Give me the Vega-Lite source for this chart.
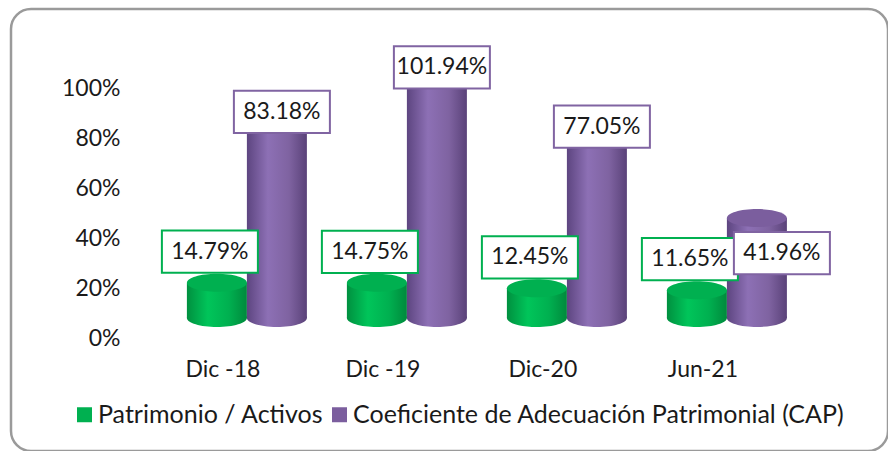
{
  "$schema": "https://vega.github.io/schema/vega-lite/v6.json",
  "width": 877,
  "height": 442,
  "autosize": {"type": "none"},
  "padding": {"left": 11, "top": 9, "right": 0, "bottom": 0},
  "background": "white",
  "config": {
    "view": {"stroke": "#9a9a9a", "strokeWidth": 2.5, "cornerRadius": 20},
    "font": "Lato"
  },
  "data": {
    "values": [
      {"periodo": "Dic -18", "serie": "Patrimonio / Activos", "valor": 0.1479},
      {"periodo": "Dic -19", "serie": "Patrimonio / Activos", "valor": 0.1475},
      {"periodo": "Dic-20", "serie": "Patrimonio / Activos", "valor": 0.1245},
      {"periodo": "Jun-21", "serie": "Patrimonio / Activos", "valor": 0.1165},
      {"periodo": "Dic -18", "serie": "Coeficiente de Adecuación Patrimonial (CAP)", "valor": 0.8318},
      {"periodo": "Dic -19", "serie": "Coeficiente de Adecuación Patrimonial (CAP)", "valor": 1.0194},
      {"periodo": "Dic-20", "serie": "Coeficiente de Adecuación Patrimonial (CAP)", "valor": 0.7705},
      {"periodo": "Jun-21", "serie": "Coeficiente de Adecuación Patrimonial (CAP)", "valor": 0.4196}
    ]
  },
  "layer": [
    {
      "mark": {"type": "point", "opacity": 0},
      "encoding": {
        "y": {
          "field": "valor",
          "type": "quantitative",
          "scale": {"domain": [-0.452, 1.316], "nice": false, "zero": false},
          "axis": {
            "orient": "left",
            "offset": -134,
            "values": [0, 0.2, 0.4, 0.6, 0.8, 1],
            "format": ".0%",
            "domain": false,
            "ticks": false,
            "tickSize": 0,
            "grid": false,
            "labelPadding": 25,
            "labelFontSize": 23,
            "labelColor": "#1a1a1a",
            "title": null
          }
        }
      }
    },
    {
      "encoding": {
        "x": {
          "field": "periodo",
          "type": "nominal",
          "sort": ["Dic -18", "Dic -19", "Dic-20", "Jun-21"],
          "scale": {"paddingInner": 0.25, "paddingOuter": 0.8656, "align": 0.635},
          "axis": {
            "orient": "bottom",
            "offset": -113,
            "domain": false,
            "ticks": false,
            "tickSize": 0,
            "grid": false,
            "labelPadding": 20,
            "labelOffset": -24,
            "labelAngle": 0,
            "labelFontSize": 23,
            "labelColor": "#1a1a1a",
            "title": null
          }
        },
        "y": {
          "field": "valor",
          "type": "quantitative",
          "stack": null,
          "scale": {"domain": [-0.559, 1.298], "nice": false, "zero": false},
          "axis": null
        }
      },
      "layer": [
        {
          "transform": [{"filter": "datum.serie === 'Patrimonio / Activos'"}],
          "mark": {"type": "point", "shape": "M -1 0 A 1 0.3 0 1 0 1 0 A 1 0.3 0 1 0 -1 0 Z", "size": 3600, "filled": true, "opacity": 1, "strokeWidth": 0, "xOffset": -30,
            "fill": {"gradient": "linear", "x1": 0, "y1": 0, "x2": 1, "y2": 0, "stops": [{"offset": 0, "color": "#00903F"}, {"offset": 0.35, "color": "#00C55A"}, {"offset": 0.7, "color": "#00B050"}, {"offset": 1, "color": "#008A3C"}]}},
          "encoding": {"y": {"datum": 0}}
        },
        {
          "transform": [{"filter": "datum.serie !== 'Patrimonio / Activos'"}],
          "mark": {"type": "point", "shape": "M -1 0 A 1 0.3 0 1 0 1 0 A 1 0.3 0 1 0 -1 0 Z", "size": 3600, "filled": true, "opacity": 1, "strokeWidth": 0, "xOffset": 30,
            "fill": {"gradient": "linear", "x1": 0, "y1": 0, "x2": 1, "y2": 0, "stops": [{"offset": 0, "color": "#5D4580"}, {"offset": 0.35, "color": "#8D70B5"}, {"offset": 0.7, "color": "#7F63A1"}, {"offset": 1, "color": "#5A4279"}]}},
          "encoding": {"y": {"datum": 0}}
        },
        {
          "transform": [{"filter": "datum.serie === 'Patrimonio / Activos'"}],
          "mark": {"type": "bar", "width": 60, "xOffset": -30,
            "fill": {"gradient": "linear", "x1": 0, "y1": 0, "x2": 1, "y2": 0, "stops": [{"offset": 0, "color": "#00903F"}, {"offset": 0.35, "color": "#00C55A"}, {"offset": 0.7, "color": "#00B050"}, {"offset": 1, "color": "#008A3C"}]}}
        },
        {
          "transform": [{"filter": "datum.serie !== 'Patrimonio / Activos'"}],
          "mark": {"type": "bar", "width": 60, "xOffset": 30,
            "fill": {"gradient": "linear", "x1": 0, "y1": 0, "x2": 1, "y2": 0, "stops": [{"offset": 0, "color": "#5D4580"}, {"offset": 0.35, "color": "#8D70B5"}, {"offset": 0.7, "color": "#7F63A1"}, {"offset": 1, "color": "#5A4279"}]}}
        },
        {
          "transform": [{"filter": "datum.serie === 'Patrimonio / Activos'"}],
          "mark": {"type": "point", "shape": "M -1 0 A 1 0.3 0 1 0 1 0 A 1 0.3 0 1 0 -1 0 Z", "size": 3600, "filled": true, "opacity": 1, "strokeWidth": 0, "xOffset": -30},
          "encoding": {
            "color": {
              "field": "serie",
              "type": "nominal",
              "scale": {"domain": ["Patrimonio / Activos", "Coeficiente de Adecuación Patrimonial (CAP)"], "range": ["#00B050", "#7B5E9E"]},
              "legend": {"orient": "none", "legendX": 61, "legendY": 393, "direction": "horizontal", "title": null, "symbolType": "square", "symbolSize": 225, "symbolStrokeWidth": 0, "symbolOpacity": 1, "labelFontSize": 25, "labelLimit": 800, "columnPadding": 3, "labelOffset": 1, "labelColor": "#1a1a1a"}
            }
          }
        },
        {
          "transform": [{"filter": "datum.serie !== 'Patrimonio / Activos'"}],
          "mark": {"type": "point", "shape": "M -1 0 A 1 0.3 0 1 0 1 0 A 1 0.3 0 1 0 -1 0 Z", "size": 3600, "filled": true, "opacity": 1, "strokeWidth": 0, "xOffset": 30},
          "encoding": {
            "color": {"field": "serie", "type": "nominal"}
          }
        },
        {
          "transform": [{"filter": "datum.serie === 'Patrimonio / Activos'"}],
          "mark": {"type": "point", "shape": "M -1 -0.44 L 1 -0.44 L 1 0.44 L -1 0.44 Z", "size": 9216, "filled": true, "fill": "white", "stroke": "#00B050", "strokeWidth": 2, "opacity": 1, "xOffset": -37, "yOffset": -31}
        },
        {
          "transform": [{"filter": "datum.serie === 'Patrimonio / Activos'"}],
          "mark": {"type": "text", "fontSize": 23, "color": "#1a1a1a", "baseline": "middle", "align": "center", "xOffset": -37, "yOffset": -31},
          "encoding": {"text": {"field": "valor", "type": "quantitative", "format": ".2%"}}
        },
        {
          "transform": [{"filter": "datum.serie !== 'Patrimonio / Activos' && datum.periodo !== 'Jun-21'"}],
          "mark": {"type": "point", "shape": "M -1 -0.44 L 1 -0.44 L 1 0.44 L -1 0.44 Z", "size": 9216, "filled": true, "fill": "white", "stroke": "#8064A2", "strokeWidth": 2, "opacity": 1, "xOffset": 35, "yOffset": -8}
        },
        {
          "transform": [{"filter": "datum.serie !== 'Patrimonio / Activos' && datum.periodo !== 'Jun-21'"}],
          "mark": {"type": "text", "fontSize": 23, "color": "#1a1a1a", "baseline": "middle", "align": "center", "xOffset": 35, "yOffset": -8},
          "encoding": {"text": {"field": "valor", "type": "quantitative", "format": ".2%"}}
        },
        {
          "transform": [{"filter": "datum.serie !== 'Patrimonio / Activos' && datum.periodo === 'Jun-21'"}],
          "mark": {"type": "point", "shape": "M -1 -0.44 L 1 -0.44 L 1 0.44 L -1 0.44 Z", "size": 9216, "filled": true, "fill": "white", "stroke": "#8064A2", "strokeWidth": 2, "opacity": 1, "xOffset": 55, "yOffset": 35}
        },
        {
          "transform": [{"filter": "datum.serie !== 'Patrimonio / Activos' && datum.periodo === 'Jun-21'"}],
          "mark": {"type": "text", "fontSize": 23, "color": "#1a1a1a", "baseline": "middle", "align": "center", "xOffset": 55, "yOffset": 35},
          "encoding": {"text": {"field": "valor", "type": "quantitative", "format": ".2%"}}
        }
      ]
    }
  ],
  "resolve": {"scale": {"y": "independent"}}
}
